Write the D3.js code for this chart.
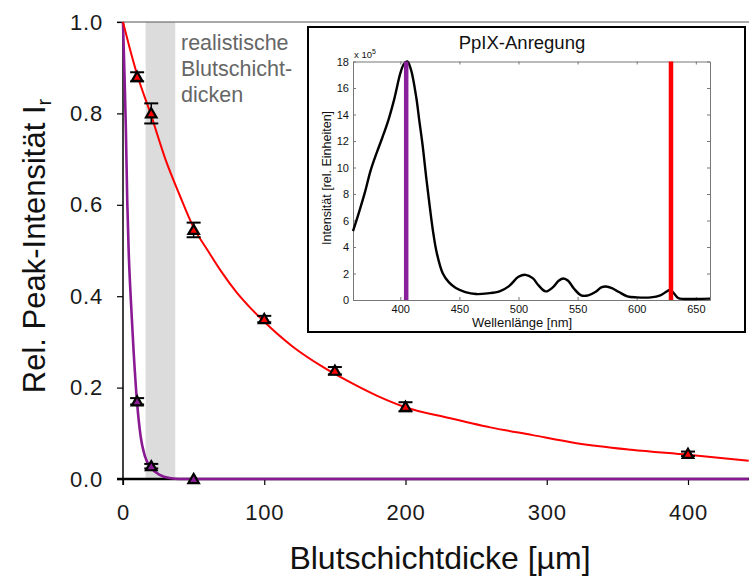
<!DOCTYPE html>
<html>
<head>
<meta charset="utf-8">
<script src="https://cdn.jsdelivr.net/npm/d3@7"></script>
<style>
  html, body { margin: 0; padding: 0; background: #fff; }
  svg { display: block; font-family: "Liberation Sans", Arial, sans-serif; }
</style>
</head>
<body>
<svg id="chart" width="749" height="576"></svg>
<script>
// ---- main chart: relative peak intensity vs. blood layer thickness ----
const thickness = [10, 20, 50, 100, 150, 200, 400];
const redValues = [0.88, 0.80, 0.545, 0.35, 0.237, 0.158, 0.055];
const redErrors = [0.01, 0.022, 0.016, 0.007, 0.008, 0.01, 0.005];

const purpleThickness = [10, 20, 50];
const purpleValues = [0.17, 0.028, 0.0];
const purpleErrors = [0.007, 0.005, 0.0];

// fitted curves, sampled points
const redFitX = [0, 5, 10, 20, 30, 40, 50, 60, 70, 80, 90, 100, 120, 140, 160, 180, 200, 230, 260, 290, 320, 360, 400, 443];
const redFitY = [1.0, 0.94, 0.885, 0.795, 0.70, 0.622, 0.55, 0.50, 0.452, 0.41, 0.375, 0.344, 0.29, 0.248, 0.213, 0.182, 0.157, 0.134, 0.113, 0.096, 0.079, 0.064, 0.053, 0.040];
const purpleFitX = [0, 1, 2, 3, 4, 5.5, 7.5, 10, 12.5, 15.5, 20, 26, 33, 40, 443];
const purpleFitY = [1.0, 0.89, 0.77, 0.61, 0.50, 0.395, 0.28, 0.166, 0.093, 0.05, 0.024, 0.009, 0.002, 0.0, 0.0];

const bandRange = [16, 37];          // realistic blood layer thicknesses [µm]
const xTicks = [0, 100, 200, 300, 400];
const yTicks = [0, 0.2, 0.4, 0.6, 0.8, 1.0];

// ---- inset: PpIX excitation spectrum ----
const waveLength = [360, 365, 370, 375, 380, 385, 390, 395, 400, 403, 406, 409, 413.5, 416, 419, 422, 425, 428, 431, 436, 441, 447, 455, 464, 474, 484, 492, 500, 506, 512, 517, 523, 529, 534, 538, 542, 547, 553, 559, 565, 570, 574, 579, 585, 592, 600, 612, 620, 625, 628, 631, 635, 640, 650, 662];
const intensity = [5.2, 6.6, 8.1, 9.8, 11.1, 12.3, 13.6, 15.2, 17.1, 17.8, 18.0, 17.4, 15.3, 13.6, 11.6, 9.2, 7.0, 5.0, 3.5, 2.0, 1.35, 0.9, 0.6, 0.45, 0.5, 0.65, 1.05, 1.75, 1.9, 1.65, 1.1, 0.65, 0.95, 1.45, 1.62, 1.45, 0.85, 0.35, 0.35, 0.6, 0.95, 1.02, 0.9, 0.6, 0.28, 0.2, 0.2, 0.35, 0.62, 0.75, 0.55, 0.15, 0.08, 0.08, 0.1];
const excitationLines = [405, 629];
const excitationColors = ["#8a1f9c", "#ff0000"];
const insetXTicks = [400, 450, 500, 550, 600, 650];
const insetYTicks = [0, 2, 4, 6, 8, 10, 12, 14, 16, 18];

const svg = d3.select("#chart");

const x = d3.scaleLinear().domain([0, 400]).range([123, 688]);
const y = d3.scaleLinear().domain([0, 1]).range([479, 22]);

// grey band
svg.append("rect")
  .attr("x", x(bandRange[0])).attr("y", y(1))
  .attr("width", x(bandRange[1]) - x(bandRange[0]))
  .attr("height", y(0) - y(1))
  .attr("fill", "#dcdcdc");

// top frame line
svg.append("line").attr("x1", 117).attr("x2", 749).attr("y1", y(1)).attr("y2", y(1))
  .attr("stroke", "#555").attr("stroke-width", 1.2);

// axes
const xAxis = d3.axisBottom(x).tickValues(xTicks).tickSize(6).tickPadding(19).tickFormat(d3.format("d"));
const yAxis = d3.axisLeft(y).tickValues(yTicks).tickSize(6).tickPadding(14).tickFormat(d3.format(".1f"));

const gx = svg.append("g").attr("transform", `translate(0,${y(0)})`).call(xAxis);
gx.select(".domain").attr("d", `M117,0H749`).attr("stroke", "#000").attr("stroke-width", 2.5);
gx.selectAll(".tick line").attr("stroke", "#000").attr("stroke-width", 1.2);
gx.selectAll(".tick text").attr("font-size", 22).attr("fill", "#1a1a1a").attr("letter-spacing", 0.8)
  .attr("font-family", "Liberation Sans, Arial, sans-serif");

const gy = svg.append("g").attr("transform", `translate(${x(0)},0)`).call(yAxis);
gy.select(".domain").attr("d", `M0,${y(1)}V${y(0) + 6}`).attr("stroke", "#000").attr("stroke-width", 1.5);
gy.selectAll(".tick line").attr("stroke", "#000").attr("stroke-width", 1.2);
gy.selectAll(".tick text").attr("font-size", 22).attr("fill", "#1a1a1a").attr("letter-spacing", 0.8)
  .attr("font-family", "Liberation Sans, Arial, sans-serif");

// axis titles
svg.append("text")
  .attr("x", 440).attr("y", 569).attr("text-anchor", "middle")
  .attr("font-size", 32).attr("fill", "#111")
  .text("Blutschichtdicke [µm]");

const yTitle = svg.append("text")
  .attr("transform", "translate(45,246) rotate(-90)")
  .attr("text-anchor", "middle")
  .attr("font-size", 31).attr("fill", "#111");
yTitle.append("tspan").text("Rel. Peak-Intensität I");
yTitle.append("tspan").attr("font-size", 20).attr("dy", 6).text("r");

// band annotation
const note = svg.append("text").attr("font-size", 21.5).attr("fill", "#666");
["realistische", "Blutschicht-", "dicken"].forEach((t, i) => {
  note.append("tspan").attr("x", 181).attr("y", 50 + i * 26).text(t);
});

// fit curves
const line = d3.line().x(d => x(d[0])).y(d => y(d[1])).curve(d3.curveMonotoneX);
svg.append("path")
  .datum(d3.zip(purpleFitX, purpleFitY))
  .attr("d", line).attr("fill", "none").attr("stroke", "#8a1a94").attr("stroke-width", 2.6);
svg.append("path")
  .datum(d3.zip(redFitX, redFitY))
  .attr("d", line).attr("fill", "none").attr("stroke", "#ff0000").attr("stroke-width", 2);

// error bars + markers
function drawSeries(xs, vs, es, fill) {
  const g = svg.append("g");
  const pts = d3.zip(xs, vs, es);
  pts.forEach(([xv, v, e]) => {
    if (e > 0) {
      const cx = x(xv), y1 = y(v + e), y2 = y(v - e);
      g.append("line").attr("x1", cx).attr("x2", cx).attr("y1", y1).attr("y2", y2)
        .attr("stroke", "#000").attr("stroke-width", 1.5);
      [y1, y2].forEach(yy => g.append("line")
        .attr("x1", cx - 7).attr("x2", cx + 7).attr("y1", yy).attr("y2", yy)
        .attr("stroke", "#000").attr("stroke-width", 2));
    }
  });
  g.selectAll("path.m").data(pts).join("path")
    .attr("class", "m")
    .attr("transform", d => `translate(${x(d[0])},${y(d[1]) + 1})`)
    .attr("d", d3.symbol(d3.symbolTriangle, 48))
    .attr("fill", fill).attr("stroke", "#000").attr("stroke-width", 2.2)
    .attr("stroke-linejoin", "miter");
}
drawSeries(thickness, redValues, redErrors, "#ff0000");
drawSeries(purpleThickness, purpleValues, purpleErrors, "#8a1a94");

// ---- inset ----
const inset = svg.append("g");
inset.append("rect").attr("x", 308).attr("y", 27).attr("width", 437).attr("height", 305)
  .attr("fill", "#fff").attr("stroke", "#000").attr("stroke-width", 2);

const ix = d3.scaleLinear().domain([360, 662]).range([353, 710]);
const iy = d3.scaleLinear().domain([0, 18]).range([300, 61.5]);

inset.append("text").attr("x", 522).attr("y", 49).attr("text-anchor", "middle")
  .attr("font-size", 18.5).attr("fill", "#111").text("PpIX-Anregung");

// inset frame with ticks on all sides
const fontInset = "Liberation Sans, Arial, sans-serif";
const ixb = inset.append("g").attr("transform", `translate(0,${iy(0)})`)
  .call(d3.axisBottom(ix).tickValues(insetXTicks).tickSizeInner(-3).tickSizeOuter(0).tickPadding(5));
const ixt = inset.append("g").attr("transform", `translate(0,${iy(18)})`)
  .call(d3.axisTop(ix).tickValues(insetXTicks).tickSizeInner(-3).tickSizeOuter(0).tickFormat(""));
const iyl = inset.append("g").attr("transform", `translate(${ix(360)},0)`)
  .call(d3.axisLeft(iy).tickValues(insetYTicks).tickSizeInner(-3).tickSizeOuter(0).tickPadding(4));
const iyr = inset.append("g").attr("transform", `translate(${ix(662)},0)`)
  .call(d3.axisRight(iy).tickValues(insetYTicks).tickSizeInner(-3).tickSizeOuter(0).tickFormat(""));
[ixb, ixt, iyl, iyr].forEach(g => {
  g.select(".domain").attr("stroke", "#777").attr("stroke-width", 1);
  g.selectAll(".tick line").attr("stroke", "#777");
  g.selectAll(".tick text").attr("font-size", 11).attr("fill", "#111").attr("font-family", fontInset);
});

// exponent label
const expo = inset.append("text").attr("x", 354).attr("y", 58).attr("font-size", 9.5).attr("fill", "#111");
expo.append("tspan").text("x 10");
expo.append("tspan").attr("font-size", 7).attr("dy", -4).text("5");

inset.append("text").attr("x", 522).attr("y", 327).attr("text-anchor", "middle")
  .attr("font-size", 13).attr("fill", "#111").text("Wellenlänge [nm]");
inset.append("text").attr("transform", "translate(331,178) rotate(-90)")
  .attr("text-anchor", "middle").attr("font-size", 12.5).attr("fill", "#111")
  .text("Intensität [rel. Einheiten]");

// spectrum
inset.append("path")
  .datum(d3.zip(waveLength, intensity))
  .attr("d", d3.line().x(d => ix(d[0])).y(d => iy(d[1])).curve(d3.curveCatmullRom))
  .attr("fill", "none").attr("stroke", "#000").attr("stroke-width", 2.4);

// excitation wavelengths
inset.selectAll("line.ex").data(d3.zip(excitationLines, excitationColors)).join("line")
  .attr("class", "ex")
  .attr("x1", d => ix(d[0])).attr("x2", d => ix(d[0]))
  .attr("y1", iy(18)).attr("y2", iy(0))
  .attr("stroke", d => d[1]).attr("stroke-width", 4.5);
</script>
</body>
</html>
